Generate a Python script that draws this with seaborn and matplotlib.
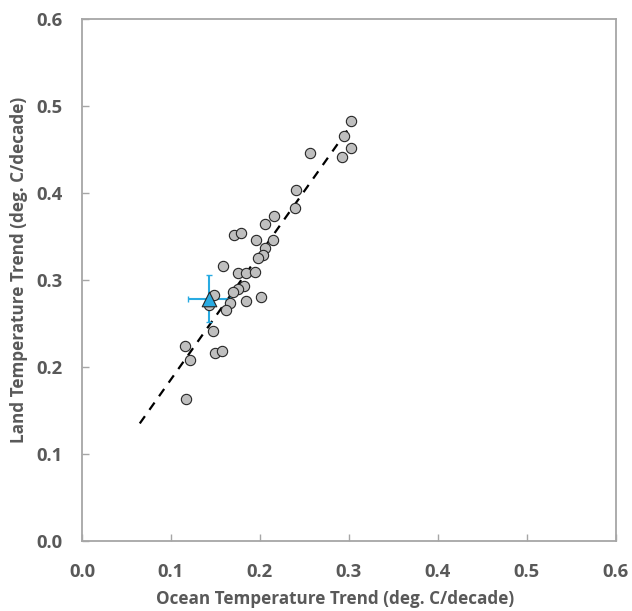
import numpy as np
import pandas as pd
import seaborn as sns
import matplotlib.pyplot as plt

# model trends (deg. C/decade)
ocean_trend = [0.302, 0.295, 0.303, 0.292, 0.256, 0.241, 0.240, 0.216, 0.206,
               0.171, 0.179, 0.196, 0.215, 0.206, 0.204, 0.198, 0.159, 0.176,
               0.185, 0.194, 0.182, 0.176, 0.170, 0.149, 0.201, 0.143, 0.166,
               0.162, 0.185, 0.147, 0.116, 0.122, 0.150, 0.157, 0.117]
land_trend = [0.482, 0.465, 0.451, 0.441, 0.446, 0.403, 0.383, 0.373, 0.364,
              0.351, 0.354, 0.346, 0.346, 0.337, 0.328, 0.325, 0.316, 0.308,
              0.308, 0.309, 0.293, 0.289, 0.286, 0.282, 0.280, 0.271, 0.273,
              0.265, 0.276, 0.241, 0.224, 0.208, 0.216, 0.218, 0.163]

# observations with uncertainty
obs_ocean = [0.143]
obs_land = [0.278]
obs_ocean_err = [0.024]
obs_land_err = [0.027]

# fitted line end points
fit_x = [0.065, 0.300]
fit_y = [0.135, 0.474]

models = pd.DataFrame({'ocean': ocean_trend, 'land': land_trend})

plt.rcParams['font.family'] = ['Open Sans', 'DejaVu Sans']
text_color = '#595959'

fig = plt.figure(figsize=(6.32, 6.11), dpi=100)
ax = fig.add_axes([0.1297, 0.1146, 0.8443, 0.855])

ax.plot(fit_x, fit_y, color='black', linestyle=(0, (4, 3.5)), linewidth=1.6, zorder=1)

sns.scatterplot(data=models, x='ocean', y='land', ax=ax, color='#bfbfbf',
                edgecolor='#262626', linewidth=0.8, s=55, zorder=3, legend=False)

ax.errorbar(obs_ocean, obs_land, xerr=obs_ocean_err, yerr=obs_land_err,
            fmt='none', ecolor='#29abe2', elinewidth=1.5, capsize=2.5, zorder=2)
ax.scatter(obs_ocean, obs_land, marker='^', s=110, color='#29abe2',
           edgecolor='#262626', linewidth=0.8, zorder=4)

ax.set_xlim(0, 0.6)
ax.set_ylim(0, 0.6)
ax.set_xticks(np.arange(0, 0.61, 0.1))
ax.set_yticks(np.arange(0, 0.61, 0.1))
ax.xaxis.set_major_formatter(plt.FormatStrFormatter('%.1f'))
ax.yaxis.set_major_formatter(plt.FormatStrFormatter('%.1f'))
ax.tick_params(direction='in', length=5, width=1, color='#a6a6a6',
               labelsize=13.3, labelcolor=text_color)
ax.tick_params(axis='x', pad=16)
ax.tick_params(axis='y', pad=14)
for lbl in ax.get_xticklabels() + ax.get_yticklabels():
    lbl.set_fontweight('bold')
for sp in ax.spines.values():
    sp.set_color('#a6a6a6')
    sp.set_linewidth(1.3)

ax.set_xlabel('Ocean Temperature Trend (deg. C/decade)', fontsize=12.3,
              fontweight='bold', color=text_color)
ax.set_ylabel('Land Temperature Trend (deg. C/decade)', fontsize=12.3,
              fontweight='bold', color=text_color)
ax.xaxis.set_label_coords(0.474, -0.094)
ax.yaxis.set_label_coords(-0.101, 0.519)

fig.savefig('out.png', dpi=100)
